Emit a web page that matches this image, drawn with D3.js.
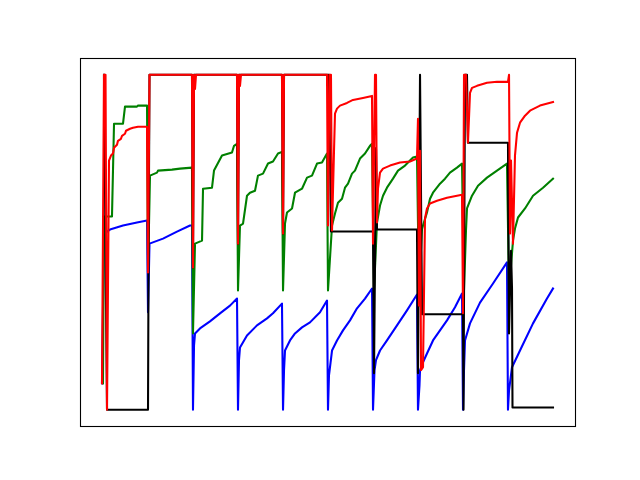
<!DOCTYPE html>
<html><head><meta charset="utf-8">
<script src="https://cdn.jsdelivr.net/npm/d3@7"></script>
<style>html,body{margin:0;padding:0;background:#fff;}svg{display:block;}</style>
</head><body>
<script>
// time (0-100) and level (0-100) pairs
const blueSeries = [
 [0.22,7.9],[0.66,51.7],[1.33,53.2],[1.99,53.8],[4.87,55.0],[7.96,55.9],[10.18,56.5],
 [10.40,29.1],[10.73,49.6],[13.72,51.1],[16.81,53.2],[19.69,55.0],[20.13,55.0],
 [20.35,0],[20.58,19.2],[20.80,22.8],[21.90,24.3],[24.11,26.4],[26.33,28.8],[28.54,31.1],[30.09,33.2],
 [30.31,0],[30.53,14.8],[30.75,18.6],[32.30,22.2],[34.51,25.2],[36.73,27.3],[38.05,28.8],[40.04,31.7],
 [40.27,0],[40.49,11.8],[40.71,17.7],[41.81,20.7],[42.92,22.8],[44.47,24.6],[46.24,26.1],[48.45,29.1],[50.00,32.6],
 [50.22,0],[50.44,10.3],[51.11,17.7],[52.21,20.7],[53.54,23.7],[55.09,26.7],[56.64,30.3],[58.41,33.2],[59.96,36.2],
 [60.18,0],[60.51,11.8],[60.84,14.8],[61.73,17.7],[63.27,20.7],[65.49,25.2],[67.70,29.7],[69.91,34.4],
 [70.13,0],[70.46,7.3],[70.58,11.8],[71.24,14.2],[72.12,16.8],[73.45,20.7],[75.00,23.7],[76.55,26.7],[78.32,30.6],[79.87,34.7],
 [80.09,0],[80.31,11.8],[80.53,20.7],[81.64,25.8],[83.85,32.0],[86.73,37.7],[89.82,44.0],
 [90.04,0],[90.27,5.8],[90.93,12.7],[92.70,17.7],[95.58,25.8],[98.67,33.2],[100,36.2]
];
const greenSeries = [
 [0.44,7.9],[0.66,57.7],[2.43,57.7],[2.88,85.4],[4.87,85.4],[5.31,90.5],[7.96,90.5],[8.19,90.8],[10.18,90.8],
 [10.40,41.0],[10.84,69.9],[12.39,70.8],[12.61,71.4],[15.71,71.7],[17.48,72.0],[20.13,72.3],
 [20.35,22.8],[20.80,49.6],[22.35,50.5],[22.57,66.0],[24.56,66.3],[25.00,71.4],[26.77,75.9],[28.98,76.8],[29.43,78.8],[30.09,79.4],
 [30.31,35.6],[30.75,55.0],[31.42,55.6],[32.30,63.9],[32.96,64.8],[34.07,65.4],[34.73,69.9],[35.84,70.5],[36.95,73.5],[38.05,74.1],[39.16,76.5],[40.04,77.0],
 [40.27,35.6],[40.71,55.6],[41.15,58.9],[42.26,60.1],[42.92,64.8],[44.47,66.0],[45.58,69.3],[46.68,69.9],[47.79,73.5],[48.89,73.8],[50.00,76.5],
 [50.22,35.6],[51.11,55.0],[51.77,58.6],[52.43,61.8],[53.32,63.0],[53.98,66.3],[54.65,67.5],[55.53,70.5],[56.19,71.4],[57.30,75.0],[58.41,76.5],[59.51,78.8],[59.96,79.4],
 [60.40,35.6],[61.06,55.9],[61.73,61.0],[62.39,63.9],[63.27,66.3],[64.60,69.0],[65.71,71.4],[67.26,72.9],[69.03,75.3],[69.91,75.6],
 [70.35,35.6],[71.02,54.0],[72.12,58.9],[72.79,63.0],[73.45,64.8],[75.00,67.5],[76.11,69.0],[77.21,70.8],[78.76,72.3],[79.87,73.5],
 [80.31,35.6],[80.75,53.5],[80.97,60.1],[82.08,63.9],[83.41,66.9],[85.40,69.3],[87.61,71.4],[89.82,73.5],
 [90.27,35.6],[91.15,50.5],[91.59,54.1],[92.26,57.4],[93.81,60.1],[95.58,63.9],[97.79,66.3],[100,69.0]
];
const blackSeries = [
 [0.66,100],[1.33,0],[10.40,0],[10.51,41.0],[10.73,100],
 [20.13,100],[20.35,42.5],[20.58,100],[30.09,100],[30.31,49.6],[30.53,100],
 [40.04,100],[40.27,52.6],[40.49,100],[50.44,100],[50.88,53.2],[60.18,53.2],
 [60.40,10.9],[60.84,78.1],[61.06,53.8],[69.91,53.8],[70.13,10.9],[70.58,100],
 [71.02,28.5],[80.09,28.5],[80.20,0],[80.53,100],[80.97,100],[81.19,79.7],
 [90.04,79.7],[90.27,22.8],[90.71,47.5],[90.93,36.2],[91.04,0.7],[100,0.7]
];
const redSeries = [
 [0.22,7.9],[0.66,100],[1.00,100],[1.33,0],[1.77,74.4],[2.21,75.9],[2.65,76.5],[2.88,78.2],[3.54,79.1],
 [3.76,80.3],[4.42,80.9],[4.65,81.8],[5.31,82.4],[5.53,83.3],[6.42,83.9],[7.08,84.2],[8.19,84.5],[10.18,84.5],
 [10.40,41.0],[10.73,100],[20.13,100],[20.35,42.5],[20.58,100],[20.80,95.8],[21.02,100],
 [30.09,100],[30.31,49.6],[30.53,100],[30.75,96.7],[30.97,100],
 [40.04,100],[40.27,52.6],[40.49,100],[50.00,100],[50.22,55.0],[50.55,100],[50.88,100],
 [51.11,53.5],[51.55,77.3],[51.77,88.4],[52.21,89.9],[52.88,90.8],[54.42,91.6],[55.75,92.5],[57.96,93.1],[59.96,93.7],
 [60.18,49.6],[60.62,100],[60.84,100],[61.06,55.9],[61.28,66.0],[61.73,70.8],[62.39,72.0],[63.94,72.9],[66.15,73.8],[68.36,74.1],[69.91,75.0],
 [70.13,86.9],[70.35,31.1],[70.58,77.3],[70.80,11.8],[71.24,12.7],[71.68,57.1],[72.12,60.1],[72.79,61.6],[74.34,62.4],[76.55,63.3],[79.87,64.2],
 [80.09,28.8],[80.31,100],[80.75,100],[81.19,79.7],[81.64,94.6],[82.08,96.1],[83.19,96.7],[85.40,97.6],[87.61,97.9],[90.04,97.9],
 [90.27,100],[90.49,52.6],[90.71,74.4],[91.15,49.6],[91.59,75.9],[92.04,82.7],[92.70,85.7],[93.81,87.8],[94.91,89.3],[97.12,90.8],[100,91.9]
];
const seriesOrder = [
 {data: blueSeries, color: "#0000ff"},
 {data: greenSeries, color: "#008000"},
 {data: blackSeries, color: "#000000"},
 {data: redSeries, color: "#ff0000"}
];

const W = 640, H = 480;
const frame = {left: 80, top: 58, right: 576, bottom: 427};
const svg = d3.select("body").append("svg").attr("width", W).attr("height", H);
const x = d3.scaleLinear().domain([0, 100]).range([101, 553]);
const y = d3.scaleLinear().domain([0, 100]).range([409.8, 74.8]);
const line = d3.line().x(d => x(d[0])).y(d => y(d[1]));

const g = svg.append("g");
seriesOrder.forEach(s => {
  g.append("path").datum(s.data).attr("d", line)
   .attr("fill", "none").attr("stroke", s.color)
   .attr("stroke-width", 2.08).attr("stroke-linejoin", "round").attr("stroke-linecap", "square");
});
svg.append("rect").attr("x", frame.left + 0.5).attr("y", frame.top + 0.5)
  .attr("width", frame.right - frame.left - 1).attr("height", frame.bottom - frame.top - 1)
  .attr("fill", "none").attr("stroke", "#000").attr("stroke-width", 1.1);
</script>
</body></html>
